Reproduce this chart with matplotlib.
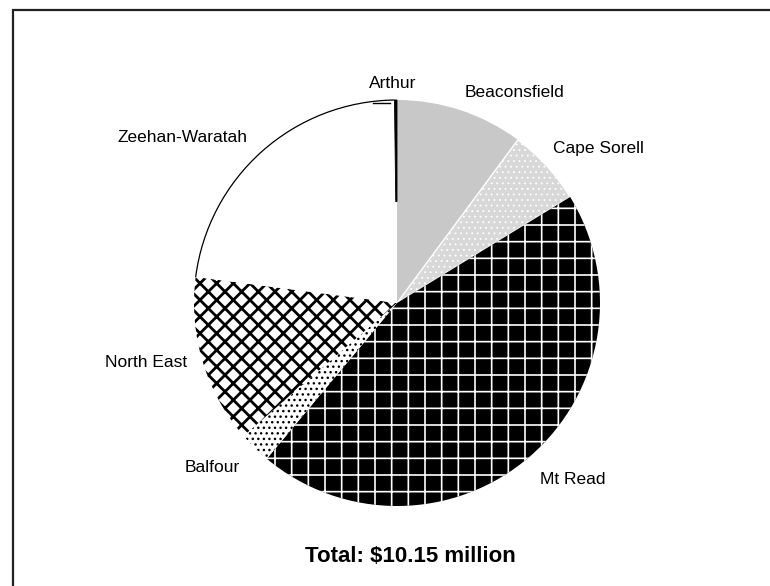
import matplotlib
matplotlib.use('Agg')
import matplotlib.pyplot as plt
from matplotlib.patches import Arc, Rectangle

# spending by region, $ million (clockwise from 12 o'clock)
regions = ['Beaconsfield', 'Cape Sorell', 'Mt Read', 'Balfour',
           'North East', 'Zeehan-Waratah', 'Arthur']
spend = [1.03, 0.62, 4.55, 0.26, 1.36, 2.31, 0.02]
total = 10.15

# fill styles (black & white print look)
faces = ['#c8c8c8', '#d8d8d8', 'black', 'white', 'white', 'white', 'black']
hatches = [None, '...', '+', '...', 'xx', None, None]
edges = ['#c8c8c8', 'white', 'white', 'black', 'black', 'black', 'black']
lws = [0, 1.0, 0, 0, 0, 0, 0.6]
hatch_lws = [1, 0.6, 1.2, 1.0, 2.0, 1, 1]

# label anchors in pie-radius units
label_pos = [(0.335, 1.035), (0.77, 0.76), (0.705, -0.87), (-0.775, -0.81),
             (-1.035, -0.295), (-0.735, 0.815), (-0.02, 1.08)]
label_ha = ['left', 'left', 'left', 'right', 'right', 'right', 'center']

plt.rcParams['font.family'] = ['Liberation Sans', 'DejaVu Sans']
plt.rcParams['hatch.linewidth'] = 1.5

W, H = 770, 586
cx, cy, R = 397, 303, 203

fig = plt.figure(figsize=(W / 100, H / 100), dpi=100)
ax = fig.add_axes([0, 0, 1, 1])

wedges, _ = ax.pie(spend, startangle=90, counterclock=False, radius=1,
                   colors=faces)
for w, h, ec, lw, hlw in zip(wedges, hatches, edges, lws, hatch_lws):
    w.set_edgecolor(ec)
    w.set_linewidth(lw)
    if h:
        w.set_hatch(h)
        if hasattr(w, 'set_hatch_linewidth'):
            w.set_hatch_linewidth(hlw)

# Arthur is only a sliver; show its outer part like the original
wedges[-1].set_width(0.5)

# outline only the rim of the white Zeehan-Waratah slice
zw = wedges[5]
ax.add_patch(Arc((0, 0), 2, 2, theta1=zw.theta1, theta2=zw.theta2,
                 color='black', lw=0.9))

for name, (x, y), ha in zip(regions, label_pos, label_ha):
    ax.text(x, y, name, ha=ha, va='center', fontsize=12.5)

# small leader line for Arthur
ax.plot([-0.12, -0.035], [0.985, 0.985], color='black', lw=1)

ax.set_xlim(-cx / R, (W - cx) / R)
ax.set_ylim(-(H - cy) / R, cy / R)
ax.set_aspect('equal')
ax.axis('off')

fig.text(410 / W, 1 - 557 / H, f'Total: ${total:.2f} million',
         ha='center', va='center', fontsize=16, fontweight='bold')

# frame (runs off the right and bottom of the picture)
fig.add_artist(Rectangle((13 / W, -0.1), 1.2, 1.1 - 10 / H,
                         transform=fig.transFigure, fill=False,
                         ec='#222222', lw=1.6))

fig.savefig('out.png', dpi=100)
